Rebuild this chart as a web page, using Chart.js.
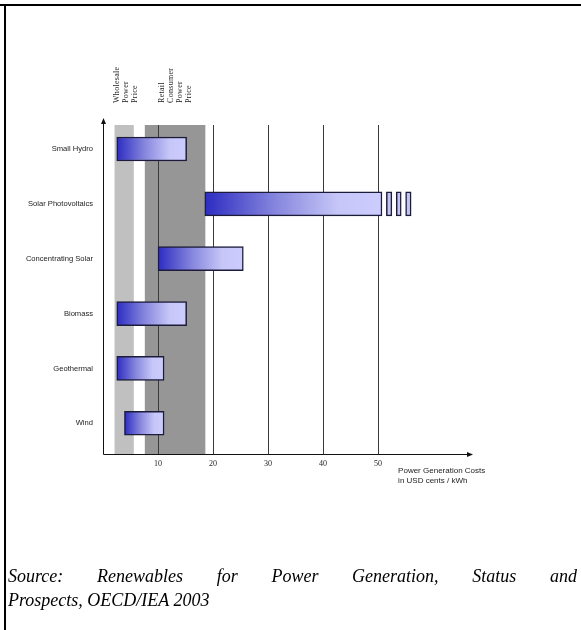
<!DOCTYPE html>
<html>
<head>
<meta charset="utf-8">
<script src="https://cdn.jsdelivr.net/npm/chart.js@4/dist/chart.umd.min.js"></script>
<style>
  html, body { margin: 0; padding: 0; background: #fff; }
  #wrap { position: relative; width: 581px; height: 630px; overflow: hidden; background: #fff; }
  #c { position: absolute; left: 0; top: 0; }
  .rule-top { position: absolute; left: 0; top: 4px; width: 581px; height: 2px; background: #000; }
  .rule-left { position: absolute; left: 4px; top: 4px; width: 2px; height: 626px; background: #000; }
  .src { position: absolute; left: 8px; width: 569px; font: italic 18px "Liberation Serif", "Times New Roman", serif;
         line-height: 24px; color: #000; white-space: nowrap; }
  .src.first { top: 564px; text-align: justify; text-align-last: justify; white-space: normal; }
  .src.second { top: 588px; text-align: left; }
</style>
</head>
<body>
<div id="wrap">
  <canvas id="c" width="581" height="630"></canvas>
  <div class="rule-top"></div>
  <div class="rule-left"></div>
  <div class="src first">Source: Renewables for Power Generation, Status and</div>
  <div class="src second">Prospects, OECD/IEA 2003</div>
</div>
<script>
// Generation cost ranges, US cents per kWh
const categories = ['Small Hydro', 'Solar Photovoltaics', 'Concentrating Solar', 'Biomass', 'Geothermal', 'Wind'];
const costLow  = [2.5, 18.5, 10.0, 2.5, 2.5, 3.9];
const costHigh = [15.2, 50.7, 25.5, 15.2, 11.1, 11.1];
// Break marks showing the PV range runs past the scale
const pvBreakMarks = [[51.5, 52.5], [53.3, 54.2], [55.0, 56.0]];
// Reference price bands
const wholesaleRange = [2.1, 5.6];
const retailRange = [7.6, 18.6];
const xTicks = [10, 20, 30, 40, 50];
const wholesaleLabel = ['Wholesale', 'Power', 'Price'];
const retailLabel = ['Retail', 'Consumer', 'Power', 'Price'];
const axisTitle = ['Power Generation Costs', 'in USD cents / kWh'];

const SANS = '"Liberation Sans", Arial, sans-serif';
const SERIF = '"Liberation Serif", "Times New Roman", serif';
const BAR_EDGE = '#1c1c3a';

function barGradient(ctx) {
  const chart = ctx.chart;
  const xs = chart.scales && chart.scales.x;
  if (!xs || !chart.chartArea || !ctx.raw) return '#8c8ce0';
  const x0 = xs.getPixelForValue(ctx.raw.x[0]);
  const x1 = xs.getPixelForValue(ctx.raw.x[1]);
  if (!isFinite(x0) || !isFinite(x1) || x1 <= x0) return '#8c8ce0';
  const g = chart.ctx.createLinearGradient(x0, 0, x1, 0);
  g.addColorStop(0, '#2c2cc2');
  g.addColorStop(0.4, '#8686de');
  g.addColorStop(0.75, '#c6c6f8');
  g.addColorStop(1, '#ccccff');
  return g;
}

const datasets = [{
  data: categories.map((c, i) => ({ x: [costLow[i], costHigh[i]], y: i })),
  backgroundColor: barGradient,
  borderColor: BAR_EDGE,
  borderWidth: 1.5,
  borderSkipped: false,
  barThickness: 24,
  grouped: false
}];
const pvIndex = categories.indexOf('Solar Photovoltaics');
pvBreakMarks.forEach(r => datasets.push({
  data: [{ x: r, y: pvIndex }],
  backgroundColor: '#c4c4f4',
  borderColor: BAR_EDGE,
  borderWidth: 1.5,
  borderSkipped: false,
  barThickness: 24,
  grouped: false
}));

function drawVerticalLabel(ctx, lines, xCenter, yStart) {
  const step = 9;
  const first = xCenter - step * (lines.length - 1) / 2;
  ctx.save();
  ctx.font = '8px ' + SERIF;
  if ('letterSpacing' in ctx) ctx.letterSpacing = '0.3px';
  ctx.fillStyle = '#222';
  ctx.textAlign = 'left';
  ctx.textBaseline = 'middle';
  lines.forEach((t, k) => {
    ctx.save();
    ctx.translate(first + k * step, yStart);
    ctx.rotate(-Math.PI / 2);
    ctx.fillText(t, 0, 0);
    ctx.restore();
  });
  ctx.restore();
}

const decor = {
  id: 'decor',
  beforeDraw(chart) {
    const { ctx, chartArea: a, scales: { x } } = chart;
    ctx.save();
    const w0 = x.getPixelForValue(wholesaleRange[0]), w1 = x.getPixelForValue(wholesaleRange[1]);
    const r0 = x.getPixelForValue(retailRange[0]), r1 = x.getPixelForValue(retailRange[1]);
    ctx.fillStyle = '#c0c0c0';
    ctx.fillRect(w0, a.top, w1 - w0, a.bottom - a.top);
    ctx.fillStyle = '#969696';
    ctx.fillRect(r0, a.top, r1 - r0, a.bottom - a.top);
    ctx.restore();
    drawVerticalLabel(ctx, wholesaleLabel, (w0 + w1) / 2 + 2, 103);
    drawVerticalLabel(ctx, retailLabel, (r0 + r1) / 2, 103);
  },
  afterDraw(chart) {
    const { ctx, chartArea: a } = chart;
    const ax = Math.round(a.left) + 0.5;
    const ay = Math.round(a.bottom) + 0.5;
    ctx.save();
    ctx.strokeStyle = '#111';
    ctx.fillStyle = '#111';
    ctx.lineWidth = 1;
    // vertical axis with arrow
    ctx.beginPath();
    ctx.moveTo(ax, ay);
    ctx.lineTo(ax, a.top - 3);
    ctx.stroke();
    ctx.beginPath();
    ctx.moveTo(ax, a.top - 7);
    ctx.lineTo(ax - 2.5, a.top - 1);
    ctx.lineTo(ax + 2.5, a.top - 1);
    ctx.closePath();
    ctx.fill();
    // horizontal axis with arrow
    ctx.beginPath();
    ctx.moveTo(ax, ay);
    ctx.lineTo(a.right - 2, ay);
    ctx.stroke();
    ctx.beginPath();
    ctx.moveTo(a.right + 3, ay);
    ctx.lineTo(a.right - 3, ay - 2.5);
    ctx.lineTo(a.right - 3, ay + 2.5);
    ctx.closePath();
    ctx.fill();
    // axis title
    ctx.font = '8px ' + SANS;
    ctx.textAlign = 'left';
    ctx.textBaseline = 'middle';
    ctx.fillStyle = '#222';
    const tx = chart.scales.x.getPixelForValue(xTicks[xTicks.length - 1]) + 20;
    axisTitle.forEach((t, k) => ctx.fillText(t, tx, a.bottom + 17 + k * 10));
    ctx.restore();
  }
};

new Chart(document.getElementById('c'), {
  type: 'bar',
  data: { datasets },
  plugins: [decor],
  options: {
    indexAxis: 'y',
    responsive: false,
    animation: false,
    events: [],
    layout: { padding: { left: 0, top: 125, right: 111, bottom: 136 } },
    plugins: { legend: { display: false }, tooltip: { enabled: false } },
    scales: {
      x: {
        type: 'linear', position: 'bottom', min: 0, max: 66.7,
        afterBuildTicks: s => { s.ticks = xTicks.map(v => ({ value: v })); },
        afterFit: s => { s.height = 40; },
        grid: { color: '#3a3a3a', lineWidth: 1, drawTicks: false },
        border: { display: false },
        ticks: { font: { family: SERIF, size: 8 }, color: '#222', padding: 5, maxRotation: 0, autoSkip: false }
      },
      y: {
        type: 'linear', position: 'left', reverse: true, offset: false, min: -0.437, max: 5.56,
        afterBuildTicks: s => { s.ticks = categories.map((c, i) => ({ value: i })); },
        afterFit: s => { s.width = 103; },
        grid: { display: false, drawTicks: false, offset: false },
        border: { display: false },
        ticks: { font: { family: SANS, size: 7.6 }, color: '#222', padding: 10, autoSkip: false,
                 callback: v => categories[v] }
      }
    }
  }
});
</script>
</body>
</html>
